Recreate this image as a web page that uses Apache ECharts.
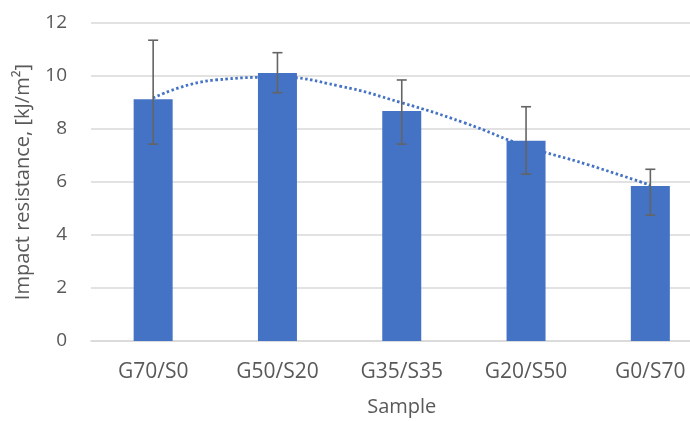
<!DOCTYPE html>
<html><head><meta charset="utf-8">
<script src="https://cdn.jsdelivr.net/npm/echarts@6/dist/echarts.min.js"></script>
<style>html,body{margin:0;padding:0;background:#fff}#c{width:690px;height:421px}</style>
</head><body><div id="c"></div>
<script>
const categories = ['G70/S0', 'G50/S20', 'G35/S35', 'G20/S50', 'G0/S70'];
const values = [9.12, 10.11, 8.68, 7.56, 5.85];
const errHigh = [11.35, 10.88, 9.85, 8.84, 6.48];
const errLow = [7.43, 9.37, 7.43, 6.30, 4.75];
const trendX = [0, 0.5, 1, 1.5, 2, 2.5, 3, 3.5, 4];
const trendY = [9.17, 9.85, 9.95, 9.62, 8.99, 8.24, 7.35, 6.65, 5.88];
const yTicks = [0, 2, 4, 6, 8, 10, 12];

const font = '"Open Sans", sans-serif';
const txt = '#595959';
const chart = echarts.init(document.getElementById('c'));
chart.setOption({
  animation: false,
  grid: { left: 91, top: 23, bottom: 80, right: -22.5, containLabel: false, outerBoundsMode: 'none' },
  xAxis: [{
    type: 'category', data: categories,
    axisLine: { lineStyle: { color: '#d9d9d9', width: 1.5 } },
    axisTick: { show: false },
    axisLabel: { color: txt, fontFamily: font, fontSize: 21, margin: 21 },
    name: 'Sample', nameLocation: 'middle', nameGap: 56,
    nameTextStyle: { color: txt, fontFamily: font, fontSize: 20 }
  }, {
    type: 'value', min: -0.5, max: 4.5, show: false
  }],
  yAxis: {
    type: 'value', min: yTicks[0], max: yTicks[yTicks.length - 1], interval: 2,
    axisLine: { show: false }, axisTick: { show: false },
    splitLine: { lineStyle: { color: '#d9d9d9', width: 1.5 } },
    axisLabel: { color: txt, fontFamily: font, fontSize: 19, margin: 24 },
    name: 'Impact resistance, [kJ/m²]', nameLocation: 'middle', nameGap: 58,
    nameTextStyle: { color: txt, fontFamily: font, fontSize: 20 }
  },
  series: [{
    type: 'bar', data: values, barWidth: 39,
    itemStyle: { color: '#4472C4' }, z: 2
  }, {
    type: 'custom', xAxisIndex: 0, z: 4,
    data: categories.map((c, i) => [i, errLow[i], errHigh[i]]),
    renderItem: function (params, api) {
      const x = api.value(0);
      const lo = api.coord([x, api.value(1)]);
      const hi = api.coord([x, api.value(2)]);
      const hw = 5;
      const style = { stroke: '#646464', lineWidth: 1.6 };
      return { type: 'group', children: [
        { type: 'line', shape: { x1: hi[0], y1: hi[1], x2: lo[0], y2: lo[1] }, style },
        { type: 'line', shape: { x1: hi[0] - hw, y1: hi[1], x2: hi[0] + hw, y2: hi[1] }, style },
        { type: 'line', shape: { x1: lo[0] - hw, y1: lo[1], x2: lo[0] + hw, y2: lo[1] }, style }
      ]};
    }
  }, {
    type: 'line', xAxisIndex: 1, smooth: true, symbol: 'none', z: 3,
    data: trendX.map((x, i) => [x, trendY[i]]),
    lineStyle: { color: '#4472C4', width: 2.8, type: [2.5, 2.5] }
  }]
});
</script></body></html>
